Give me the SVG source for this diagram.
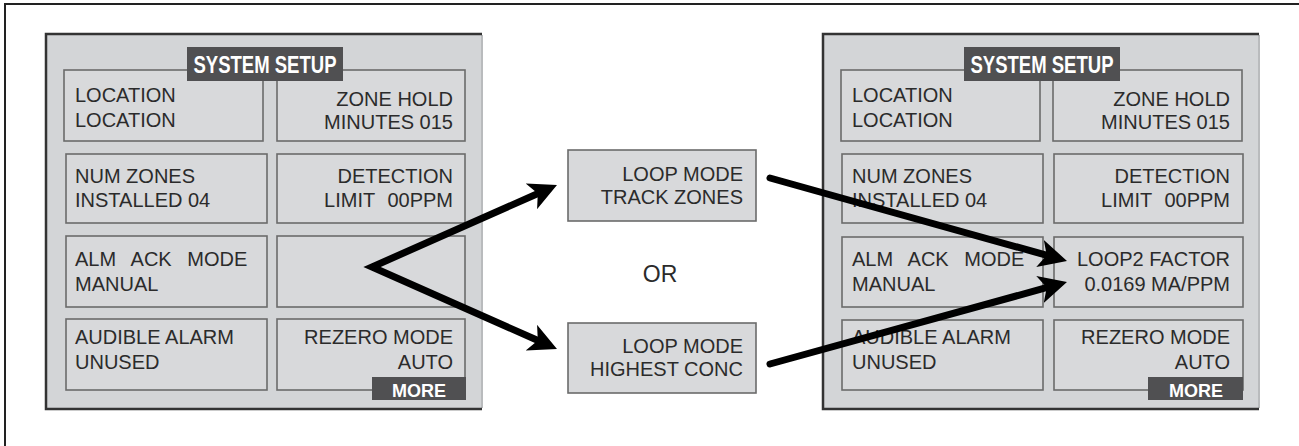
<svg xmlns="http://www.w3.org/2000/svg" width="1299" height="446" viewBox="0 0 1299 446">
<defs>
<style>
.frame{fill:none;stroke:#222;stroke-width:2}
.panel{fill:#d3d5d7}
.pedge{fill:none;stroke:#333;stroke-width:2.5}
.predge{fill:none;stroke:#b9bbbd;stroke-width:2}
.cell{fill:#d8d9db;stroke:#6b6b6b;stroke-width:1.6}
.tag{fill:#505052}
.t{font-family:"Liberation Sans",Arial,sans-serif;font-size:20px;fill:#2b2b2b}
.r{text-anchor:end}
.title{font-family:"Liberation Sans",Arial,sans-serif;font-size:24px;font-weight:bold;fill:#fff;text-anchor:middle}
.more{font-family:"Liberation Sans",Arial,sans-serif;font-size:18px;font-weight:bold;fill:#fff;text-anchor:middle}
.or{font-family:"Liberation Sans",Arial,sans-serif;font-size:23px;fill:#2b2b2b;text-anchor:middle}
.arrow{fill:none;stroke:#000;stroke-width:7;stroke-linecap:round;stroke-linejoin:miter}
</style>
<marker id="ah" viewBox="0 0 10 10" refX="5" refY="5" markerWidth="4" markerHeight="4" orient="auto-start-reverse">
<path d="M0,0 L10,5 L0,10 L2.5,5 z" fill="#000"/>
</marker>
</defs>
<rect width="1299" height="446" fill="#fff"/>
<path class="frame" d="M5,446 L5,4 L1299,4"/>

<g id="left-panel">
<rect class="panel" x="46" y="34" width="436" height="375"/>
<path class="predge" d="M482,35 L482,408"/>
<path class="pedge" d="M482,34 L46,34 L46,409 L482,409"/>
<g id="l-location"><rect class="cell" x="64" y="70" width="199" height="71"/><text class="t" x="75" y="102">LOCATION</text><text class="t" x="75" y="127">LOCATION</text></g>
<g id="l-zonehold"><rect class="cell" x="277" y="70" width="188" height="71"/><text class="t r" x="453" y="106">ZONE HOLD</text><text class="t r" x="453" y="129">MINUTES 015</text></g>
<g id="l-numzones"><rect class="cell" x="66" y="154" width="201" height="69"/><text class="t" x="75" y="183">NUM ZONES</text><text class="t" x="75" y="207">INSTALLED 04</text></g>
<g id="l-detection"><rect class="cell" x="277" y="154" width="188" height="69"/><text class="t r" x="453" y="183">DETECTION</text><text class="t r" x="453" y="207" word-spacing="7">LIMIT 00PPM</text></g>
<g id="l-almack"><rect class="cell" x="66" y="236" width="201" height="71"/><text class="t" x="75" y="266" word-spacing="10">ALM ACK MODE</text><text class="t" x="75" y="291">MANUAL</text></g>
<g id="l-empty"><rect class="cell" x="277" y="236" width="188" height="71"/></g>
<g id="l-audible"><rect class="cell" x="66" y="319" width="201" height="71"/><text class="t" x="75" y="344">AUDIBLE ALARM</text><text class="t" x="75" y="369">UNUSED</text></g>
<g id="l-rezero"><rect class="cell" x="277" y="319" width="188" height="71"/><text class="t r" x="453" y="344">REZERO MODE</text><text class="t r" x="453" y="369">AUTO</text></g>
<g id="l-title"><rect class="tag" x="187" y="47" width="156" height="34"/><text class="title" x="265" y="73" textLength="143" lengthAdjust="spacingAndGlyphs">SYSTEM SETUP</text></g>
<g id="l-more"><rect class="tag" x="372" y="377" width="94" height="23"/><text class="more" x="419" y="397">MORE</text></g>
</g>

<g id="mode-track">
<rect class="cell" x="568" y="150" width="188" height="71"/>
<text class="t r" x="743" y="181">LOOP MODE</text><text class="t r" x="743" y="204">TRACK ZONES</text>
</g>
<g id="or-label"><text class="or" x="660" y="282">OR</text></g>
<g id="mode-highest">
<rect class="cell" x="568" y="323" width="188" height="70"/>
<text class="t r" x="743" y="353">LOOP MODE</text><text class="t r" x="743" y="376">HIGHEST CONC</text>
</g>

<g id="right-panel">
<rect class="panel" x="823" y="34" width="436" height="375"/>
<path class="predge" d="M1259,35 L1259,408"/>
<path class="pedge" d="M1259,34 L823,34 L823,409 L1259,409"/>
<g id="r-location"><rect class="cell" x="841" y="70" width="199" height="71"/><text class="t" x="852" y="102">LOCATION</text><text class="t" x="852" y="127">LOCATION</text></g>
<g id="r-zonehold"><rect class="cell" x="1053" y="70" width="189" height="71"/><text class="t r" x="1230" y="106">ZONE HOLD</text><text class="t r" x="1230" y="129">MINUTES 015</text></g>
<g id="r-numzones"><rect class="cell" x="842" y="154" width="201" height="69"/><text class="t" x="852" y="183">NUM ZONES</text><text class="t" x="852" y="207">INSTALLED 04</text></g>
<g id="r-detection"><rect class="cell" x="1054" y="154" width="189" height="69"/><text class="t r" x="1230" y="183">DETECTION</text><text class="t r" x="1230" y="207" word-spacing="7">LIMIT 00PPM</text></g>
<g id="r-almack"><rect class="cell" x="842" y="237" width="201" height="70"/><text class="t" x="852" y="266" word-spacing="10">ALM ACK MODE</text><text class="t" x="852" y="291">MANUAL</text></g>
<g id="r-loop2"><rect class="cell" x="1054" y="237" width="189" height="70"/><text class="t r" x="1230" y="266">LOOP2 FACTOR</text><text class="t r" x="1230" y="291">0.0169 MA/PPM</text></g>
<g id="r-audible"><rect class="cell" x="842" y="320" width="201" height="70"/><text class="t" x="852" y="344">AUDIBLE ALARM</text><text class="t" x="852" y="369">UNUSED</text></g>
<g id="r-rezero"><rect class="cell" x="1054" y="320" width="189" height="70"/><text class="t r" x="1230" y="344">REZERO MODE</text><text class="t r" x="1230" y="369">AUTO</text></g>
<g id="r-title"><rect class="tag" x="964" y="47" width="156" height="34"/><text class="title" x="1042" y="73" textLength="143" lengthAdjust="spacingAndGlyphs">SYSTEM SETUP</text></g>
<g id="r-more"><rect class="tag" x="1148" y="377" width="95" height="23"/><text class="more" x="1196" y="397">MORE</text></g>
</g>

<g id="connectors">
<path class="arrow" d="M544.2,190.7 L372,267 L544.2,343.3" marker-start="url(#ah)" marker-end="url(#ah)"/>
<path class="arrow" d="M770,178 L1053.5,257.2" marker-end="url(#ah)"/>
<path class="arrow" d="M770,364 L1053.5,285.7" marker-end="url(#ah)"/>
</g>
</svg>
